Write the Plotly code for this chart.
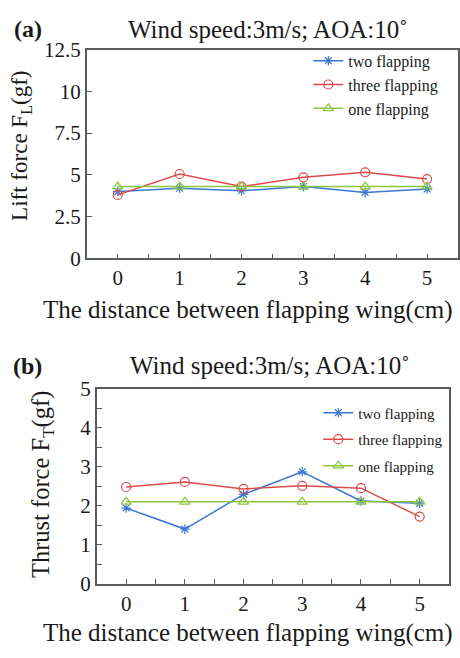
import plotly.graph_objects as go

# ---- data ----
distance = [0, 1, 2, 3, 4, 5]
lift_two = [4.0, 4.2, 4.05, 4.3, 3.95, 4.15]
lift_three = [3.8, 5.05, 4.3, 4.85, 5.15, 4.75]
lift_one = [4.3, 4.3, 4.3, 4.3, 4.3, 4.3]
thrust_two = [1.94, 1.40, 2.29, 2.87, 2.12, 2.06]
thrust_three = [2.48, 2.61, 2.43, 2.51, 2.45, 1.72]
thrust_one = [2.10, 2.10, 2.10, 2.10, 2.10, 2.10]
series_names = ["two flapping", "three flapping", "one flapping"]

FONT = "Liberation Serif"
W, H = 460, 658
BLUE, RED, GREEN = "#3b78d4", "#dc4b4b", "#8cc63e"
colors = [BLUE, RED, GREEN]
symbols = ["asterisk-open", "circle-open", "triangle-up-open"]
sizes = [8, 9, 9]
TXT = "#1a1a1a"
AX = "#5a5a5a"

fig = go.Figure()

for i, ys in enumerate([lift_two, lift_three, lift_one]):
    fig.add_trace(go.Scatter(
        x=distance, y=ys, mode="lines+markers", name=series_names[i],
        line=dict(color=colors[i], width=1.5),
        marker=dict(symbol=symbols[i], size=sizes[i], color=colors[i],
                    line=dict(color=colors[i], width=1.2)),
        xaxis="x", yaxis="y", legend="legend", legendgroup="a%d" % i))

for i, ys in enumerate([thrust_two, thrust_three, thrust_one]):
    fig.add_trace(go.Scatter(
        x=distance, y=ys, mode="lines+markers", name=series_names[i],
        line=dict(color=colors[i], width=1.5),
        marker=dict(symbol=symbols[i], size=sizes[i], color=colors[i],
                    line=dict(color=colors[i], width=1.2)),
        xaxis="x2", yaxis="y2", legend="legend2", legendgroup="b%d" % i))

def px_x(p):
    return p / W

def px_y(p):
    return 1 - p / H

axis_common = dict(showline=True, linecolor=AX, linewidth=1.5, mirror=True,
                   ticks="inside", ticklen=5, tickcolor=AX, tickwidth=1.2,
                   showgrid=False, zeroline=False,
                   tickfont=dict(family=FONT, size=21, color=TXT))
minor = dict(ticks="inside", dtick=0.5, tick0=0, ticklen=5, tickcolor=AX, tickwidth=1.2)

fig.update_layout(
    width=W, height=H, margin=dict(l=0, r=0, t=0, b=0),
    paper_bgcolor="white", plot_bgcolor="white",
    font=dict(family=FONT, color=TXT),
    xaxis=dict(domain=[px_x(87), px_x(459)], range=[-0.5, 5.5], anchor="y",
               tickvals=distance, minor=minor, **axis_common),
    yaxis=dict(domain=[px_y(255.7), px_y(39)], range=[0, 12.5], anchor="x",
               dtick=2.5, tick0=0, **axis_common),
    xaxis2=dict(domain=[px_x(97), px_x(450)], range=[-0.5, 5.5], anchor="y2",
                tickvals=distance, minor=minor, **axis_common),
    yaxis2=dict(domain=[px_y(593.3), px_y(391)], range=[0, 5], anchor="x2",
                dtick=1, tick0=0, minor=minor, **axis_common),
    legend=dict(x=px_x(309), y=px_y(33), xanchor="left", yanchor="top",
                bgcolor="rgba(0,0,0,0)", itemwidth=30, tracegroupgap=0,
                font=dict(family=FONT, size=16, color=TXT)),
    legend2=dict(x=px_x(319), y=px_y(399), xanchor="left", yanchor="top",
                 bgcolor="rgba(0,0,0,0)", itemwidth=30, tracegroupgap=4,
                 font=dict(family=FONT, size=15, color=TXT)),
    showlegend=True,
)

ann = []
def add_text(text, x, y, size, bold=False, angle=0):
    ann.append(dict(text=("<b>%s</b>" % text) if bold else text,
                    x=px_x(x), y=px_y(y), xref="paper", yref="paper",
                    xanchor="center", yanchor="middle", showarrow=False,
                    textangle=angle, font=dict(family=FONT, size=size, color=TXT)))

title_txt = "Wind speed:3m/s; AOA:10˚"
add_text("(a)", 28, 18, 24, bold=True)
add_text(title_txt, 269, 18, 25)
add_text("(b)", 28, 367, 24, bold=True)
add_text(title_txt, 271, 367, 25)
xtitle = "The distance between flapping wing(cm)"
add_text(xtitle, 249, 309, 25)
add_text(xtitle, 249, 644, 25)
add_text("Lift force F<sub>L</sub>(gf)", 21, 139, 23, angle=-90)
add_text("Thrust force F<sub>T</sub>(gf)", 42, 490, 24.5, angle=-90)
fig.update_layout(annotations=ann)

fig.write_html("out.html")
